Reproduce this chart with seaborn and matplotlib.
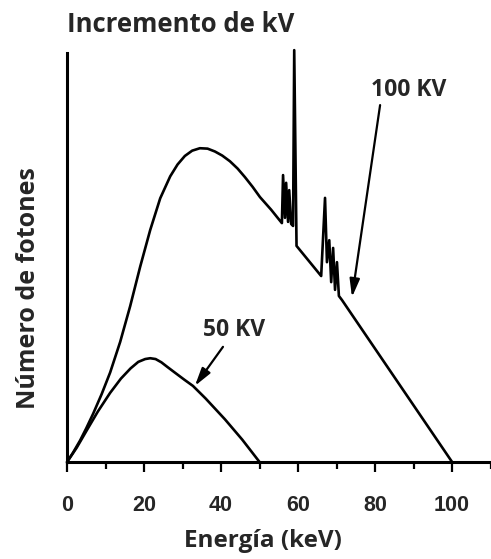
import matplotlib
matplotlib.use("Agg")
import matplotlib.pyplot as plt
from matplotlib.ticker import MultipleLocator
import pandas as pd
import seaborn as sns

# Tungsten-anode X-ray spectra (relative photon count vs energy in keV)
energy_100kv = [0, 1.5, 3.4, 5.0, 6.8, 9.0, 11.2, 13.8, 16.4, 19.0, 21.6, 24.2, 26.8,
                28.7, 30.6, 32.5, 34.5, 36.5, 38.4, 40.3, 42.3, 44.3, 46.2, 48.2, 50.1,
                53.0, 55.8,
                56.1, 56.6, 56.9, 57.4, 57.7, 58.2, 58.7, 59.0, 59.6,
                66.0, 67.0, 67.5, 68.1, 68.6, 69.1, 69.6, 70.1, 70.6, 71.4, 100.0]
counts_100kv = [0, 2.2, 5.3, 8.3, 11.9, 16.7, 22.0, 29.5, 38.3, 48.0, 57.0, 64.8, 70.2,
                73.1, 75.2, 76.5, 77.1, 77.0, 76.3, 75.3, 73.9, 72.1, 70.0, 67.6, 65.1,
                62.0, 58.7,
                70.5, 60.0, 68.6, 59.0, 66.8, 58.5, 58.0, 101.2, 53.1,
                45.7, 64.9, 49.1, 54.5, 44.2, 52.6, 42.3, 49.1, 40.8, 39.8, 0]

energy_50kv = [0, 2.5, 5.2, 8.0, 11.2, 14.0, 16.5, 18.5, 20.3, 21.6, 23.0, 24.5, 26.0,
               28.1, 30.5, 32.7, 36.0, 41.0, 45.5, 50.0]
counts_50kv = [0, 3.5, 7.9, 12.4, 17.0, 20.5, 23.0, 24.6, 25.3, 25.5, 25.3, 24.5, 23.4,
               21.9, 20.2, 18.7, 15.6, 10.5, 5.5, 0]

x_ticks = [0, 20, 40, 60, 80, 100]
x_label = "Energía (keV)"
y_label = "Número de fotones"
title_text = "Incremento de kV"

df = pd.concat([
    pd.DataFrame({"energia": energy_100kv, "fotones": counts_100kv, "tension": "100 KV"}),
    pd.DataFrame({"energia": energy_50kv, "fotones": counts_50kv, "tension": "50 KV"}),
], ignore_index=True)

sns.set_theme(style="white")
plt.rcParams["font.family"] = ["Open Sans", "DejaVu Sans"]

fig = plt.figure(figsize=(4.91, 5.59), dpi=100)
ax = fig.add_axes([0.1365, 0.1735, 0.8635, 0.7317])

sns.lineplot(data=df, x="energia", y="fotones", units="tension", estimator=None,
             sort=False, color="black", linewidth=1.9, ax=ax, legend=False)
for line in ax.lines:
    line.set_clip_on(False)
    line.set_solid_joinstyle("round")

ax.set_xlim(0, 110.1)
ax.set_ylim(0, 100.5)

for side in ("top", "right"):
    ax.spines[side].set_visible(False)
for side in ("left", "bottom"):
    ax.spines[side].set_linewidth(2.2)
    ax.spines[side].set_color("black")

ax.set_xticks(x_ticks)
ax.set_xticklabels([str(t) for t in x_ticks], family=["Liberation Sans", "DejaVu Sans"],
                   fontsize=15.5, fontweight="bold")
ax.xaxis.set_minor_locator(MultipleLocator(10))
ax.tick_params(axis="x", which="major", direction="out", length=7, width=1.6,
               color="black", pad=17, bottom=True)
ax.tick_params(axis="x", which="minor", direction="out", length=5, width=1.6,
               color="black", bottom=True)
ax.set_yticks([])

ax.set_xlabel(x_label, fontsize=17.5, fontweight="bold", va="center")
ax.xaxis.set_label_coords(0.462, -0.193)
ax.set_ylabel(y_label, fontsize=18, fontweight="bold", va="center")
ax.yaxis.set_label_coords(-0.092, 0.425)

ax.text(0, 107.6, title_text, fontsize=18.5, fontweight="bold", ha="left", va="center",
        clip_on=False)

arrow_style = dict(arrowstyle="-|>,head_length=0.9,head_width=0.25", color="black",
                   lw=1.6, shrinkA=0, shrinkB=0)
ax.annotate("100 KV", xy=(74.0, 40.5), xytext=(88.6, 91.4), fontsize=16.5, fontweight="bold",
            ha="center", va="center", annotation_clip=False)
ax.annotate("", xy=(74.0, 40.5), xytext=(81.3, 87.7), arrowprops=arrow_style)
ax.annotate("50 KV", xy=(33.2, 18.7), xytext=(43.4, 32.4), fontsize=16.5, fontweight="bold",
            ha="center", va="center")
ax.annotate("", xy=(33.2, 18.7), xytext=(40.5, 28.3), arrowprops=arrow_style)

fig.savefig("out.png", dpi=100, facecolor="white")
